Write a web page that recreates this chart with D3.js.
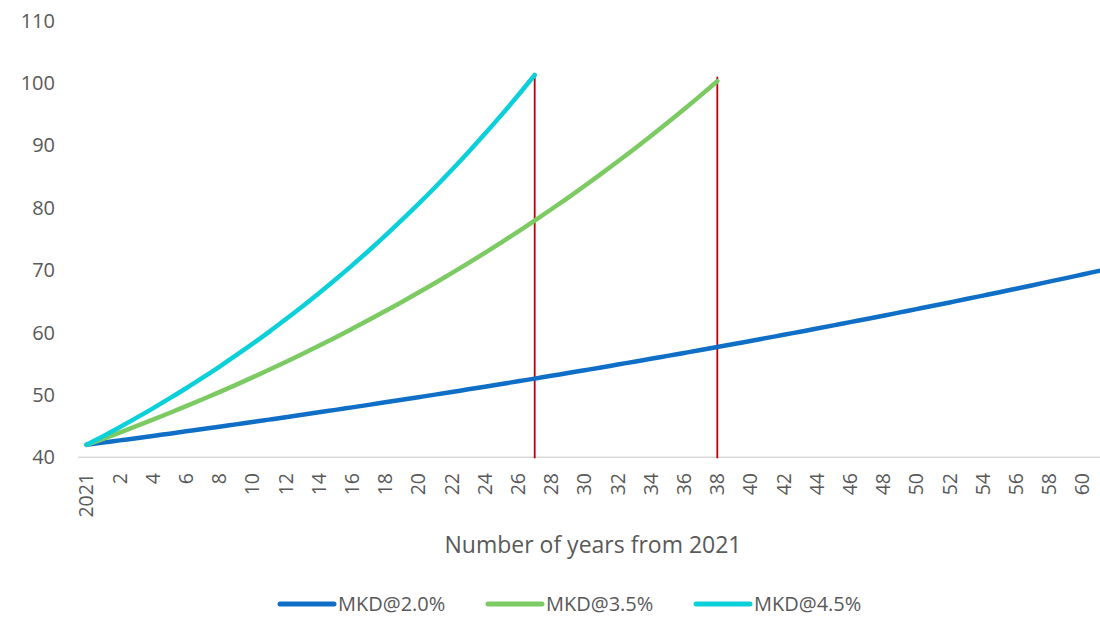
<!DOCTYPE html>
<html>
<head>
<meta charset="utf-8">
<script src="https://cdn.jsdelivr.net/npm/d3@7"></script>
<style>
  html, body { margin: 0; padding: 0; background: #fff; }
  svg { display: block; font-family: "Open Sans", sans-serif; }
</style>
</head>
<body>
<svg id="chart" width="1100" height="618"></svg>
<script>
// ---- data ----
const xLabels = ["2021"].concat(d3.range(2, 61, 2).map(String)); // tick labels every 2 years
const xTickValues = d3.range(0, 61, 2);
const yTicks = [40, 50, 60, 70, 80, 90, 100, 110];

const mkd20 = [42.00, 42.35, 42.71, 43.06, 43.43, 43.79, 44.16, 44.53, 44.90, 45.28,
  45.66, 46.04, 46.42, 46.81, 47.21, 47.60, 48.00, 48.40, 48.81, 49.22,
  49.63, 50.04, 50.46, 50.89, 51.31, 51.74, 52.18, 52.61, 53.06, 53.50,
  53.95, 54.40, 54.86, 55.32, 55.78, 56.25, 56.72, 57.19, 57.67, 58.16,
  58.64, 59.14, 59.63, 60.13, 60.63, 61.14, 61.66, 62.17, 62.69, 63.22,
  63.75, 64.28, 64.82, 65.36, 65.91, 66.46, 67.02, 67.58, 68.15, 68.72,
  69.30, 69.88];
const mkd35 = [42.00, 42.97, 43.97, 44.99, 46.03, 47.10, 48.19, 49.30, 50.44, 51.61,
  52.81, 54.03, 55.28, 56.56, 57.87, 59.21, 60.59, 61.99, 63.43, 64.89,
  66.40, 67.94, 69.51, 71.12, 72.77, 74.45, 76.18, 77.94, 79.75, 81.59,
  83.48, 85.42, 87.40, 89.42, 91.49, 93.61, 95.78, 98.00, 100.27];
const mkd45 = [42.00, 43.39, 44.83, 46.32, 47.85, 49.44, 51.07, 52.77, 54.51, 56.32,
  58.19, 60.11, 62.11, 64.16, 66.29, 68.49, 70.76, 73.10, 75.52, 78.03,
  80.61, 83.28, 86.04, 88.89, 91.84, 94.88, 98.02, 101.27];

const seriesNames = ["MKD@2.0%", "MKD@3.5%", "MKD@4.5%"];
const seriesColors = ["#0F6FC6", "#7CCA62", "#0BD0D9"];
const seriesValues = [mkd20, mkd35, mkd45];

const markerYears = [27, 38];
const markerTops = [101.6, 101.0];

const axisTitle = "Number of years from 2021";

// ---- layout ----
const svg = d3.select("#chart");
const W = 1100;
const x = d3.scaleLinear().domain([0, 60]).range([86.5, 1082.5]);
const y = d3.scaleLinear().domain([40, 110]).range([457.3, 20.5]);
const textColor = "#595959";

// x axis line
svg.append("line")
  .attr("x1", x(-0.5)).attr("x2", W)
  .attr("y1", y(40)).attr("y2", y(40))
  .attr("stroke", "#D9D9D9").attr("stroke-width", 1.5);

// y tick labels
svg.append("g").selectAll("text").data(yTicks).join("text")
  .attr("x", 55).attr("y", d => y(d)).attr("dy", "0.35em")
  .attr("text-anchor", "end")
  .attr("font-size", 20).attr("fill", textColor)
  .text(d => d);

// x tick labels (rotated)
svg.append("g").selectAll("text").data(xTickValues).join("text")
  .attr("transform", d => `translate(${x(d)},473) rotate(-90)`)
  .attr("dy", "0.35em")
  .attr("text-anchor", "end")
  .attr("font-size", 19.5).attr("fill", textColor)
  .text((d, i) => xLabels[i]);

// axis title
svg.append("text")
  .attr("x", 593).attr("y", 553)
  .attr("text-anchor", "middle")
  .attr("font-size", 23).attr("fill", textColor)
  .text(axisTitle);

// red marker lines
svg.append("g").selectAll("line").data(markerYears).join("line")
  .attr("x1", d => x(d)).attr("x2", d => x(d))
  .attr("y1", y(40) + 1).attr("y2", (d, i) => y(markerTops[i]))
  .attr("stroke", "#C00000").attr("stroke-width", 1.8);

// series lines
const line = d3.line().x((d, i) => x(i)).y(d => y(d)).curve(d3.curveMonotoneX);
svg.append("g").selectAll("path").data(seriesValues).join("path")
  .attr("d", d => line(d))
  .attr("fill", "none")
  .attr("stroke", (d, i) => seriesColors[i])
  .attr("stroke-width", 4.5)
  .attr("stroke-linecap", "round")
  .attr("stroke-linejoin", "round");

// legend
const legend = svg.append("g").selectAll("g").data(seriesNames).join("g")
  .attr("transform", (d, i) => `translate(${280 + i * 208},604)`);
legend.append("line")
  .attr("x1", 0).attr("x2", 54).attr("y1", 0).attr("y2", 0)
  .attr("stroke", (d, i) => seriesColors[i])
  .attr("stroke-width", 5).attr("stroke-linecap", "round");
legend.append("text")
  .attr("x", 58).attr("y", 0).attr("dy", "0.34em")
  .attr("font-size", 20).attr("fill", textColor)
  .text(d => d);
</script>
</body>
</html>
